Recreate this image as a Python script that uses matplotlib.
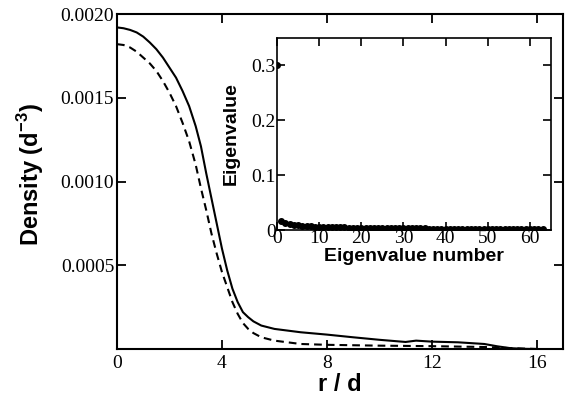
import numpy as np
import matplotlib
matplotlib.use("Agg")
import matplotlib.pyplot as plt

# density profiles
r_solid = [0, 0.25, 0.5, 0.75, 1.0, 1.25, 1.5, 1.75, 2.0, 2.25, 2.5, 2.75, 3.0,
           3.2, 3.4, 3.6, 3.8, 4.0, 4.2, 4.4, 4.6, 4.8, 5.0, 5.2, 5.5, 6.0,
           7.0, 8.0, 9.0, 10.0, 11.0, 11.4, 11.8, 12.0, 13.0, 14.0, 14.5,
           15.0, 15.5, 16.0]
dens_solid = [0.00192, 0.001915, 0.001905, 0.00189, 0.001865, 0.00183,
              0.00179, 0.00174, 0.00168, 0.00162, 0.00154, 0.00145, 0.00133,
              0.00121, 0.00105, 0.00090, 0.00075, 0.00060, 0.00047, 0.00036,
              0.00028, 0.00022, 0.00019, 0.000165, 0.00014, 0.00012,
              0.000100, 0.000086, 0.000070, 0.000055, 0.000042, 0.000050,
              0.000046, 0.000044, 0.000040, 0.000030, 0.000016, 0.000005,
              0.000001, 0.0]

r_dash = [0, 0.25, 0.5, 0.75, 1.0, 1.25, 1.5, 1.75, 2.0, 2.25, 2.5, 2.75, 3.0,
          3.2, 3.4, 3.6, 3.8, 4.0, 4.2, 4.4, 4.6, 4.8, 5.0, 5.2, 5.5, 6.0,
          7.0, 8.0, 10.0, 12.0, 14.0, 15.0, 16.0]
dens_dash = [0.00182, 0.001815, 0.00180, 0.001775, 0.00174, 0.001705,
             0.00166, 0.00160, 0.00153, 0.00145, 0.00135, 0.00124, 0.00110,
             0.00096, 0.00083, 0.00069, 0.00057, 0.00046, 0.00037, 0.00028,
             0.00021, 0.000155, 0.00012, 0.000095, 0.00007, 0.00005,
             0.00003, 0.000025, 0.00002, 0.000017, 0.000012, 0.000005, 0.0]

# eigenvalue spectrum (inset)
eigvals = [0.300, 0.017, 0.013, 0.011, 0.010, 0.009, 0.0075, 0.0070, 0.0065,
           0.0060, 0.0058, 0.0055, 0.0053, 0.0051, 0.0049, 0.0047, 0.0046,
           0.0044, 0.0043, 0.0042, 0.0041, 0.0040, 0.0039, 0.0038, 0.0037,
           0.0036, 0.0035, 0.0034, 0.0033, 0.0032, 0.0031, 0.0030, 0.0030,
           0.0029, 0.0028, 0.0028, 0.0027, 0.0026, 0.0026, 0.0025, 0.0024,
           0.0024, 0.0023, 0.0023, 0.0022, 0.0021, 0.0021, 0.0020, 0.0020,
           0.0019, 0.0019, 0.0018, 0.0018, 0.0017, 0.0017, 0.0016, 0.0016,
           0.0015, 0.0015, 0.0014, 0.0014, 0.0013, 0.0012, 0.0011]
eig_num = np.arange(len(eigvals))

main_xticks = [0, 4, 8, 12, 16]
main_yticks = [0.0005, 0.0010, 0.0015, 0.0020]
main_ylabels = ["0.0005", "0.0010", "0.0015", "0.0020"]
inset_xticks = [0, 10, 20, 30, 40, 50, 60]
inset_yticks = [0, 0.1, 0.2, 0.3]
inset_ylabels = ["0", "0.1", "0.2", "0.3"]

serif = "Liberation Serif"
sans = "Liberation Sans"
plt.rcParams["mathtext.fontset"] = "custom"
plt.rcParams["mathtext.rm"] = "Liberation Sans"
plt.rcParams["mathtext.bf"] = "Liberation Sans:bold"

fig = plt.figure(figsize=(5.66, 3.98), dpi=100)
ax = fig.add_axes([0.2067, 0.1231, 0.7880, 0.8417])

ax.plot(r_solid, dens_solid, color="black", lw=1.5)
ax.plot(r_dash, dens_dash, color="black", lw=1.5, linestyle=(0, (3.7, 2.4)))

ax.set_xlim(0, 17)
ax.set_ylim(0, 0.002)
ax.set_xticks(main_xticks)
ax.set_xticklabels([str(t) for t in main_xticks], family=serif, fontsize=14)
ax.set_yticks(main_yticks)
ax.set_yticklabels(main_ylabels, family=serif, fontsize=14)
ax.tick_params(direction="in", length=6.5, width=1.3, top=True, right=True)
ax.tick_params(axis="x", pad=4)
ax.tick_params(axis="y", pad=2)
for s in ax.spines.values():
    s.set_linewidth(1.5)

ax.set_xlabel("r / d", family=sans, fontweight="bold", fontsize=17, labelpad=1)
ax.set_ylabel("Density (d$^{\\mathbf{-3}}$)", family=sans, fontweight="bold", fontsize=17)
ax.yaxis.set_label_coords(-0.16, 0.52)

# inset
ins = fig.add_axes([0.4894, 0.4221, 0.4841, 0.4824])
ins.plot(eig_num, eigvals, color="black", ls="none", marker="o", ms=4)
ins.set_xlim(0, 65)
ins.set_ylim(0, 0.35)
ins.set_xticks(inset_xticks)
ins.set_xticklabels([str(t) for t in inset_xticks], family=serif, fontsize=14)
ins.set_yticks(inset_yticks)
ins.set_yticklabels(inset_ylabels, family=serif, fontsize=14)
ins.tick_params(direction="in", length=5.5, width=1.2, top=True, right=True)
ins.tick_params(axis="x", pad=0)
ins.tick_params(axis="y", pad=1)
for s in ins.spines.values():
    s.set_linewidth(1.2)
ins.set_xlabel("Eigenvalue number", family=sans, fontweight="bold", fontsize=14, labelpad=1)
ins.set_ylabel("Eigenvalue", family=sans, fontweight="bold", fontsize=14)
ins.yaxis.set_label_coords(-0.135, 0.5)

fig.savefig("out.png", dpi=100)
